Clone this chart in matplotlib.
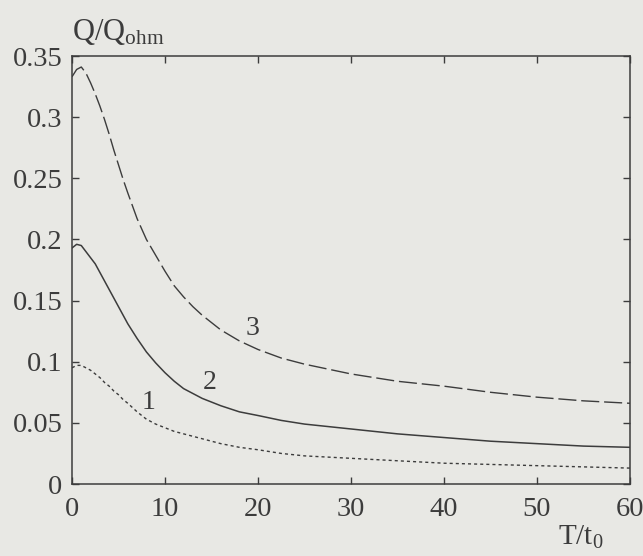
import numpy as np
import matplotlib
matplotlib.use("Agg")
from matplotlib import pyplot as plt

plt.rcParams['font.family'] = ['Liberation Serif', 'DejaVu Serif']
plt.rcParams['mathtext.fontset'] = 'custom'
plt.rcParams['mathtext.rm'] = 'Liberation Serif'
plt.rcParams['mathtext.it'] = 'Liberation Serif'

# T/t0 values
T = [0, 0.5, 1, 1.5, 2, 2.5, 3, 3.5, 4, 4.5, 5, 5.5, 6, 7, 8, 9, 10, 11, 12, 13, 14, 15, 16,
     18, 20, 22.5, 25, 30, 35, 40, 45, 50, 55, 60]

# curve 1 (dotted)
q1 = [0.095, 0.097, 0.097, 0.095, 0.093, 0.090, 0.087, 0.083, 0.080, 0.076, 0.073, 0.069, 0.066,
      0.059, 0.053, 0.049, 0.046, 0.043, 0.041, 0.039, 0.037, 0.035, 0.033,
      0.030, 0.028, 0.025, 0.023, 0.021, 0.019, 0.017, 0.016, 0.015, 0.014, 0.013]
# curve 2 (solid)
q2 = [0.193, 0.196, 0.195, 0.190, 0.185, 0.180, 0.173, 0.166, 0.159, 0.152, 0.145, 0.138, 0.131,
      0.119, 0.108, 0.099, 0.091, 0.084, 0.078, 0.074, 0.070, 0.067, 0.064,
      0.059, 0.056, 0.052, 0.049, 0.045, 0.041, 0.038, 0.035, 0.033, 0.031, 0.030]
# curve 3 (dashed)
q3 = [0.333, 0.339, 0.341, 0.336, 0.328, 0.319, 0.309, 0.298, 0.286, 0.273, 0.261, 0.249, 0.238,
      0.217, 0.200, 0.187, 0.174, 0.162, 0.153, 0.145, 0.138, 0.132, 0.126,
      0.117, 0.110, 0.103, 0.098, 0.090, 0.084, 0.080, 0.075, 0.071, 0.068, 0.066]

curve_labels = ['1', '2', '3']
label_pos = [(8.2, 0.067), (14.8, 0.083), (19.4, 0.127)]

ink = '#3c3c3c'
paper = '#e8e8e4'

fig = plt.figure(figsize=(6.43, 5.56), dpi=100, facecolor=paper)
ax = fig.add_axes([72/643, 1 - 484/556, (630 - 72)/643, (484 - 56)/556])
ax.set_facecolor(paper)

ax.plot(T, q1, color=ink, lw=1.0, dashes=(2.2, 2.2), dash_joinstyle='round')
ax.plot(T, q2, color=ink, lw=1.1, solid_joinstyle='round')
ax.plot(T, q3, color=ink, lw=1.0, dashes=(13, 3.5), dash_joinstyle='round')

for lab, (x, y) in zip(curve_labels, label_pos):
    ax.text(x, y, lab, ha='center', va='center', fontsize=20, color=ink)

ax.set_xlim(0, 60)
ax.set_ylim(0, 0.35)
ax.set_xticks([0, 10, 20, 30, 40, 50, 60])
ax.set_yticks([0, 0.05, 0.1, 0.15, 0.2, 0.25, 0.3, 0.35])
ax.set_yticklabels(['0', '0.05', '0.1', '0.15', '0.2', '0.25', '0.3', '0.35'])
ax.tick_params(direction='in', length=5, width=1, colors=ink, labelsize=20.5,
               top=True, right=True)
ax.tick_params(axis='x', pad=9)
ax.tick_params(axis='y', pad=7)
for s in ax.spines.values():
    s.set_color(ink)
    s.set_linewidth(1.1)

fig.text(72/643, 1 - 40/556, r'Q/Q$_{\mathrm{ohm}}$', ha='left', va='baseline',
         fontsize=22, color=ink)
fig.text(558/643, 1 - 545/556, r'T/t$_{\mathrm{0}}$', ha='left', va='baseline',
         fontsize=21, color=ink)

fig.savefig('out.png', dpi=100, facecolor=paper)
